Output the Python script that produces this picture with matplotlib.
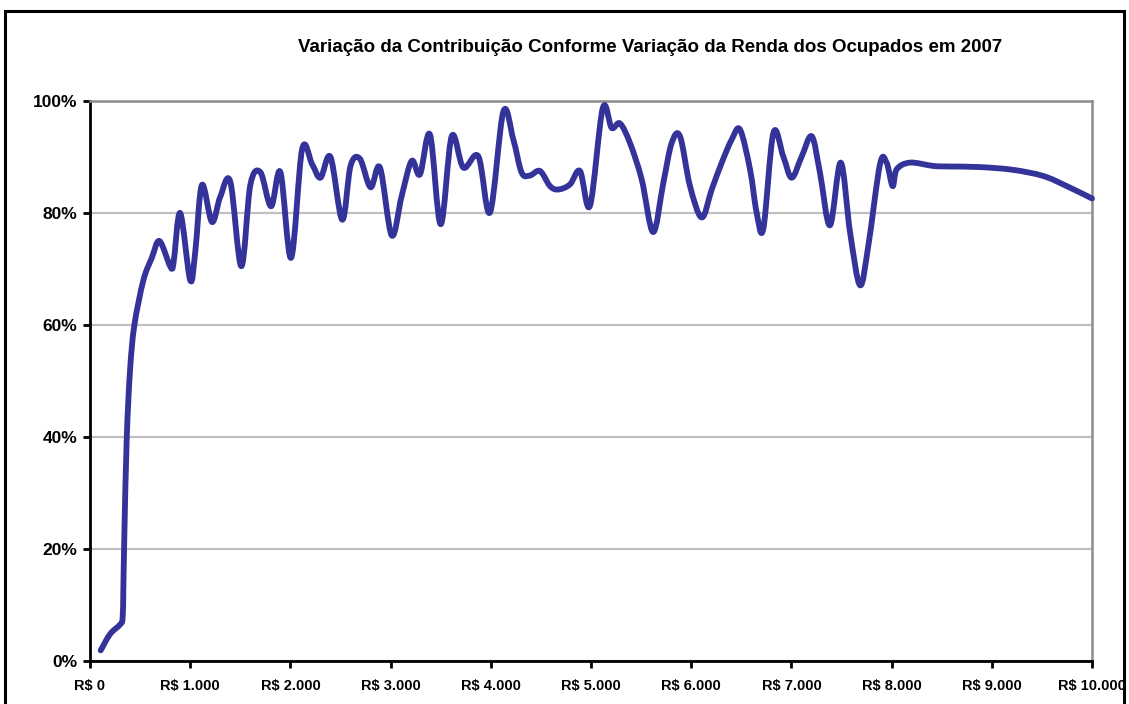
import matplotlib
matplotlib.use("Agg")
import matplotlib.pyplot as plt
import numpy as np
from matplotlib.patches import Rectangle, PathPatch
from matplotlib.path import Path

plt.rcParams['font.family'] = ['Liberation Sans', 'DejaVu Sans']

# renda (R$) x contribuicao (%)
renda = [107, 200, 300, 325, 333, 343, 367, 400, 443, 533, 617, 693, 800, 833, 900,
         1000, 1050, 1117, 1217, 1300, 1400, 1510, 1600, 1700, 1807, 1900, 2007,
         2117, 2217, 2300, 2400, 2517, 2600, 2693, 2800, 2894, 3011, 3110, 3210,
         3293, 3393, 3500, 3610, 3726, 3876, 3992, 4125, 4225, 4308, 4391, 4491,
         4591, 4674, 4790, 4890, 4990, 5117, 5206, 5289, 5389, 5506, 5620, 5722,
         5805, 5888, 5988, 6105, 6205, 6305, 6404, 6487, 6587, 6653, 6720, 6820,
         6919, 7003, 7103, 7203, 7285, 7385, 7492, 7585, 7685, 7768, 7884, 7950,
         8010, 8051, 8184, 8417, 8583, 8882, 9215, 9515, 9748, 10000]
contrib = [1.9, 4.8, 6.5, 7.6, 13, 22.6, 40, 52, 60, 68, 72, 75, 70.5, 71, 80,
           68, 73, 85, 78.4, 82.9, 85.6, 70.5, 85, 87.3, 81.2, 87.3, 72,
           91.4, 88.7, 86.3, 90, 78.8, 88.4, 89.7, 84.6, 88.1, 76, 83, 89.3,
           86.9, 94, 78, 93.7, 88.1, 90.1, 80.1, 98.1, 93.1, 87.2, 86.7, 87.5,
           84.8, 84.2, 85.1, 87.5, 81.3, 98.7, 95.2, 96, 92.5, 86, 76.6, 85.4,
           92.5, 93.7, 84.8, 79.2, 84.2, 89, 93.1, 94.9, 87.8, 80.1, 77.2, 94.3,
           90.1, 86.3, 90.1, 93.7, 87.2, 77.8, 89, 76.6, 67.1, 74.2, 88.7, 89,
           84.8, 87.8, 89, 88.4, 88.3, 88.2, 87.7, 86.6, 84.8, 82.6]

xticks = list(range(0, 10001, 1000))
xlabels = ['R$ 0', 'R$ 1.000', 'R$ 2.000', 'R$ 3.000', 'R$ 4.000', 'R$ 5.000',
           'R$ 6.000', 'R$ 7.000', 'R$ 8.000', 'R$ 9.000', 'R$ 10.000']
yticks = [0, 20, 40, 60, 80, 100]
ylabels = ['0%', '20%', '40%', '60%', '80%', '100%']


def smooth_path(xs, ys):
    # linha suavizada estilo Excel (Catmull-Rom -> Bezier cubica)
    p = np.column_stack([xs, ys]).astype(float)
    verts = [p[0]]
    codes = [Path.MOVETO]
    n = len(p)
    for i in range(n - 1):
        p0 = p[i - 1] if i > 0 else p[i]
        p1 = p[i]
        p2 = p[i + 1]
        p3 = p[i + 2] if i + 2 < n else p[i + 1]
        c1 = p1 + (p2 - p0) / 6
        c2 = p2 - (p3 - p1) / 6
        verts += [c1, c2, p2]
        codes += [Path.CURVE4] * 3
    return Path(verts, codes)


W, H = 1129, 704
fig = plt.figure(figsize=(W / 100, H / 100), dpi=100)
ax = fig.add_axes([90 / W, (H - 661) / H, 1002 / W, 560 / H])

# moldura externa
fig.patches.append(Rectangle((5 / W, -0.05), 1119 / W, (H - 11) / H + 0.05,
                             transform=fig.transFigure, fill=False,
                             edgecolor='black', linewidth=2.2))

ax.add_patch(PathPatch(smooth_path(renda, contrib), facecolor='none',
                       edgecolor='#333399', linewidth=4.2, joinstyle='round',
                       capstyle='round', zorder=3, clip_on=False))

ax.set_xlim(0, 10000)
ax.set_ylim(0, 100)
ax.set_xticks(xticks)
ax.set_xticklabels(xlabels, fontsize=10.5, fontweight='bold')
ax.set_yticks(yticks)
ax.set_yticklabels(ylabels, fontsize=12.5, fontweight='bold')
ax.tick_params(axis='both', direction='out', length=5, width=2, color='black')
ax.tick_params(axis='x', pad=8)
ax.tick_params(axis='y', pad=4)

ax.yaxis.grid(True, color='#c0c0c0', linewidth=1.6)
ax.set_axisbelow(True)

ax.spines['left'].set_color('black')
ax.spines['left'].set_linewidth(2)
ax.spines['bottom'].set_color('black')
ax.spines['bottom'].set_linewidth(2)
ax.spines['top'].set_color('#8c8c8c')
ax.spines['top'].set_linewidth(1.8)
ax.spines['right'].set_color('#8c8c8c')
ax.spines['right'].set_linewidth(1.8)

fig.text(650 / W, 1 - 47 / H,
         'Variação da Contribuição Conforme Variação da Renda dos Ocupados em 2007',
         ha='center', va='center', fontsize=13.5, fontweight='bold')

fig.savefig('out.png', dpi=100)
